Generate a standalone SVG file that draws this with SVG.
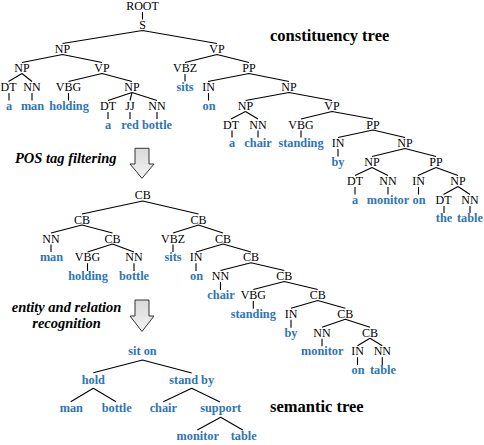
<svg xmlns="http://www.w3.org/2000/svg" width="484" height="445" viewBox="0 0 484 445">
<style>
.t{font-family:"Liberation Serif","Times New Roman",serif;font-size:12px;fill:#000;text-anchor:middle}
.w{font-family:"Liberation Serif","Times New Roman",serif;font-size:12.3px;font-weight:bold;fill:#2e75b6;text-anchor:middle}
.h{font-family:"Liberation Serif","Times New Roman",serif;font-size:16.5px;font-weight:bold;fill:#000}
.c{font-family:"Liberation Serif","Times New Roman",serif;font-size:14.5px;font-weight:bold;font-style:italic;fill:#000}
.e{fill:none;stroke:#000;stroke-width:1.1}
.arr{fill:url(#g);stroke:#333;stroke-width:1}
</style>
<defs>
<linearGradient id="g" x1="0" y1="0" x2="0" y2="1">
<stop offset="0" stop-color="#dadada"/>
<stop offset="1" stop-color="#f2f2f2"/>
</linearGradient>
</defs>
<rect width="484" height="445" fill="#fff"/>

<g id="connectors">
<path class="e" d="M142.5 12V19.5 M142.5 30.5L62.5 43.5 M142.5 30.5L217 43.5 M62.5 54.5L22 62.5 M62.5 54.5L102 62.5 M217 54.5L185 62.5 M217 54.5L249 62.5 M22 73.5L8.5 81.5 M22 73.5L32 81.5 M102 73.5L68.5 81.5 M102 73.5L132 81.5 M185 74V81.5 M249 73.5L208 81.5 M249 73.5L289 81.5 M9 93V100.5 M32 93V100.5 M68.5 93V100.5 M132 92.5L108 100.5 M132 92.5L130 100.5 M132 92.5L157 100.5 M208.5 93V100.5 M289 92.5L245.5 100.5 M289 92.5L332 100.5 M108 112V119 M130 112V119 M157 112V119 M245.5 111.5L231 119 M245.5 111.5L258 119 M332 111.5L301 119 M332 111.5L373 119 M232 130.5V137.5 M258 130.5V137.5 M301 130.5V137.5 M373 130L338 137.5 M373 130L405 137.5 M338 149V156.5 M405 148.5L372 156.5 M405 148.5L436 156.5 M372 167.5L355 175.5 M372 167.5L388 175.5 M436 167.5L418 175.5 M436 167.5L458 175.5 M355 187V194.5 M388 187V194.5 M418.5 187V194.5 M458 186.5L443.5 194.5 M458 186.5L470 194.5 M444 206V213 M470 206V213"/>
<path class="e" d="M142.7 201L82 214 M142.7 201L198.5 214 M82 225L51 233 M82 225L112.5 233 M198.5 225L173 233 M198.5 225L223 233 M51 244.5V252 M112.5 244L87.5 252 M112.5 244L134 252 M173 244.5V252 M223 244L196 252 M223 244L251 252 M87.5 263.3V271 M134 263.3V271 M196 263.3V271 M251 262.8L220.5 270.5 M251 262.8L284.3 270.5 M220.5 282V290 M284.3 281.5L253.3 289.5 M284.3 281.5L317.7 289.5 M253.3 301V308.7 M317.7 300.5L291 308.2 M317.7 300.5L345.3 308.2 M291 319.7V327.7 M345.3 319.2L322 327.2 M345.3 319.2L370 327.2 M322 338.7V346.3 M370 338.2L357.5 345.8 M370 338.2L382.3 345.8 M357.5 357.3V365 M382.3 357.3V365"/>
<path class="e" d="M142.5 360L93.3 372.7 M142.5 360L191.7 373 M93.3 388.3L70.7 401.7 M93.3 388.3L116 401.7 M191.7 388.3L163.3 401.7 M191.7 388.3L220 402 M220.7 417.3L197.3 430 M220.7 417.3L242.7 430"/>
</g>

<g id="labels">
<text class="h" x="270" y="40.7">constituency tree</text>
<text class="h" x="270" y="412">semantic tree</text>
<text class="c" x="15" y="163.3">POS tag filtering</text>
<text class="c" x="66.5" y="311.7" text-anchor="middle">entity and relation</text>
<text class="c" x="66.5" y="328.3" text-anchor="middle">recognition</text>
</g>
<g id="arrow1"><path class="arr" d="M135 148.3H149V164H154L142 178.3L130 164H135Z"/></g>
<g id="arrow2"><path class="arr" d="M135 300H149V316H154L142 331.5L130 316H135Z"/></g>

<g id="constituency">
<g id="c-root"><text class="t" x="142.5" y="10">ROOT</text></g>
<g id="c-s"><text class="t" x="142.5" y="29">S</text></g>
<g id="c-np1"><text class="t" x="62.5" y="53">NP</text></g>
<g id="c-vp1"><text class="t" x="217" y="53">VP</text></g>
<g id="c-np2"><text class="t" x="22" y="72">NP</text></g>
<g id="c-vp2"><text class="t" x="102" y="72">VP</text></g>
<g id="c-vbz1"><text class="t" x="185" y="72">VBZ</text></g>
<g id="c-pp1"><text class="t" x="249" y="72">PP</text></g>
<g id="c-dt1"><text class="t" x="8.5" y="91">DT</text></g>
<g id="c-nn1"><text class="t" x="32" y="91">NN</text></g>
<g id="c-vbg1"><text class="t" x="68.5" y="91">VBG</text></g>
<g id="c-np3"><text class="t" x="132" y="91">NP</text></g>
<g id="c-sits"><text class="w" x="185" y="91">sits</text></g>
<g id="c-in1"><text class="t" x="208.5" y="91">IN</text></g>
<g id="c-np4"><text class="t" x="289" y="91">NP</text></g>
<g id="c-a1"><text class="w" x="9" y="110">a</text></g>
<g id="c-man"><text class="w" x="32.5" y="110">man</text></g>
<g id="c-holding"><text class="w" x="69" y="110">holding</text></g>
<g id="c-dt2"><text class="t" x="108" y="110">DT</text></g>
<g id="c-jj"><text class="t" x="130" y="110">JJ</text></g>
<g id="c-nn2"><text class="t" x="157" y="110">NN</text></g>
<g id="c-on1"><text class="w" x="209" y="110">on</text></g>
<g id="c-np5"><text class="t" x="245.5" y="110">NP</text></g>
<g id="c-vp3"><text class="t" x="332" y="110">VP</text></g>
<g id="c-a2"><text class="w" x="108" y="128.5">a</text></g>
<g id="c-red"><text class="w" x="130" y="128.5">red</text></g>
<g id="c-bottle"><text class="w" x="157" y="128.5">bottle</text></g>
<g id="c-dt3"><text class="t" x="231" y="128.5">DT</text></g>
<g id="c-nn3"><text class="t" x="258" y="128.5">NN</text></g>
<g id="c-vbg2"><text class="t" x="301" y="128.5">VBG</text></g>
<g id="c-pp2"><text class="t" x="373" y="128.5">PP</text></g>
<g id="c-a3"><text class="w" x="232" y="147">a</text></g>
<g id="c-chair"><text class="w" x="258" y="147">chair</text></g>
<g id="c-standing"><text class="w" x="301" y="147">standing</text></g>
<g id="c-in2"><text class="t" x="338" y="147">IN</text></g>
<g id="c-np6"><text class="t" x="405" y="147">NP</text></g>
<g id="c-by"><text class="w" x="338" y="166">by</text></g>
<g id="c-np7"><text class="t" x="372" y="166">NP</text></g>
<g id="c-pp3"><text class="t" x="436" y="166">PP</text></g>
<g id="c-dt4"><text class="t" x="355" y="185">DT</text></g>
<g id="c-nn4"><text class="t" x="388" y="185">NN</text></g>
<g id="c-in3"><text class="t" x="418.5" y="185">IN</text></g>
<g id="c-np8"><text class="t" x="458" y="185">NP</text></g>
<g id="c-a4"><text class="w" x="355" y="204">a</text></g>
<g id="c-monitor"><text class="w" x="388" y="204">monitor</text></g>
<g id="c-on2"><text class="w" x="419" y="204">on</text></g>
<g id="c-dt5"><text class="t" x="443.5" y="204">DT</text></g>
<g id="c-nn5"><text class="t" x="470" y="204">NN</text></g>
<g id="c-the"><text class="w" x="444" y="222">the</text></g>
<g id="c-table"><text class="w" x="470" y="222">table</text></g>
</g>

<g id="filtered">
<g id="f-cb0"><text class="t" x="142.7" y="199">CB</text></g>
<g id="f-cb1"><text class="t" x="82" y="223.5">CB</text></g>
<g id="f-cb2"><text class="t" x="198.5" y="223.5">CB</text></g>
<g id="f-nna"><text class="t" x="51" y="242.5">NN</text></g>
<g id="f-cb3"><text class="t" x="112.5" y="242.5">CB</text></g>
<g id="f-vbz"><text class="t" x="173" y="242.5">VBZ</text></g>
<g id="f-cb4"><text class="t" x="223" y="242.5">CB</text></g>
<g id="f-man"><text class="w" x="51.5" y="261.3">man</text></g>
<g id="f-vbg3"><text class="t" x="87.5" y="261.3">VBG</text></g>
<g id="f-nnb"><text class="t" x="134" y="261.3">NN</text></g>
<g id="f-sits"><text class="w" x="173" y="261.3">sits</text></g>
<g id="f-ina"><text class="t" x="196" y="261.3">IN</text></g>
<g id="f-cb5"><text class="t" x="251" y="261.3">CB</text></g>
<g id="f-holding"><text class="w" x="88" y="280">holding</text></g>
<g id="f-bottle"><text class="w" x="134" y="280">bottle</text></g>
<g id="f-on3"><text class="w" x="196.5" y="280">on</text></g>
<g id="f-nnc"><text class="t" x="220.5" y="280">NN</text></g>
<g id="f-cb6"><text class="t" x="284.3" y="280">CB</text></g>
<g id="f-chair"><text class="w" x="221" y="299">chair</text></g>
<g id="f-vbg4"><text class="t" x="253.3" y="299">VBG</text></g>
<g id="f-cb7"><text class="t" x="317.7" y="299">CB</text></g>
<g id="f-standing"><text class="w" x="253.3" y="317.7">standing</text></g>
<g id="f-inb"><text class="t" x="291" y="317.7">IN</text></g>
<g id="f-cb8"><text class="t" x="345.3" y="317.7">CB</text></g>
<g id="f-by"><text class="w" x="291" y="336.7">by</text></g>
<g id="f-nnd"><text class="t" x="322" y="336.7">NN</text></g>
<g id="f-cb9"><text class="t" x="370" y="336.7">CB</text></g>
<g id="f-monitor"><text class="w" x="322.3" y="355.3">monitor</text></g>
<g id="f-inc"><text class="t" x="357.5" y="355.3">IN</text></g>
<g id="f-nne"><text class="t" x="382.3" y="355.3">NN</text></g>
<g id="f-on4"><text class="w" x="358" y="374">on</text></g>
<g id="f-table"><text class="w" x="383" y="374">table</text></g>
</g>

<g id="semantic">
<g id="s-siton"><text class="w" x="142.5" y="355">sit on</text></g>
<g id="s-hold"><text class="w" x="93.3" y="384">hold</text></g>
<g id="s-standby"><text class="w" x="191.7" y="384">stand by</text></g>
<g id="s-man"><text class="w" x="71.3" y="411.7">man</text></g>
<g id="s-bottle"><text class="w" x="116.7" y="411.7">bottle</text></g>
<g id="s-chair"><text class="w" x="163.3" y="411.7">chair</text></g>
<g id="s-support"><text class="w" x="220.7" y="411.7">support</text></g>
<g id="s-monitor"><text class="w" x="197.7" y="440">monitor</text></g>
<g id="s-table"><text class="w" x="243.7" y="440">table</text></g>
</g>
</svg>
